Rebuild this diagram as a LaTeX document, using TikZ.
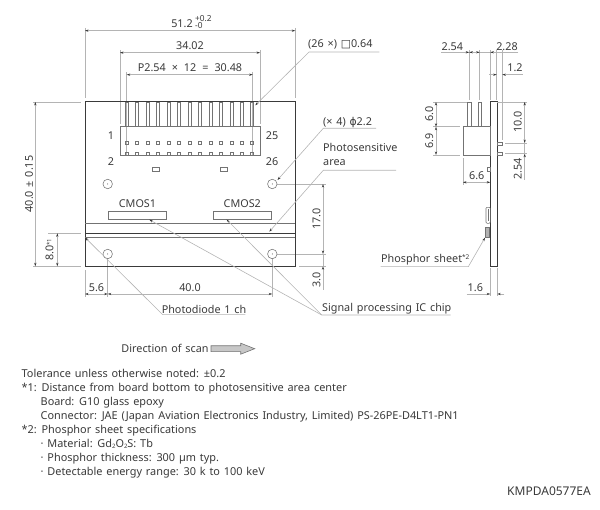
\documentclass[tikz,border=0pt]{standalone}
\usepackage{xcolor}
\usepackage{fontspec}
\setmainfont{Noto Sans}[WordSpace=1.35]
\newfontfamily\symfont{DejaVu Sans}
\usetikzlibrary{arrows.meta, positioning}
\definecolor{inkgray}{HTML}{3A3A3A}
\definecolor{linegray}{HTML}{B4B4B4}
\tikzset{
    outline/.style={draw=inkgray, line width=1pt},
    part/.style={draw=black!55, line width=0.55pt},
    extline/.style={draw=linegray, line width=0.6pt},
    dimline/.style={draw=linegray, line width=0.6pt, {Stealth[black!80, length=3.5pt, width=2.2pt]}-{Stealth[black!80, length=3.5pt, width=2.2pt]}},
    dimout/.style={draw=linegray, line width=0.6pt, -{Stealth[black!80, length=3.5pt, width=2.2pt]}},
    leader/.style={draw=linegray, line width=0.6pt, -{Stealth[black!80, length=3.5pt, width=2.2pt]}},
    lbl/.style={text=inkgray, inner sep=0pt, font=\fontsize{10.8}{12}\selectfont},
    vlbl/.style={lbl, rotate=90},
    hole/.style={circle, part, minimum size=9.5pt, inner sep=0pt},
    smallpad/.style={rectangle, part, inner sep=0pt, line width=0.45pt}
}
\newcommand{\subtwo}{\raisebox{-0.6pt}{\fontsize{6}{6}\selectfont 2}}
\begin{document}
\begin{tikzpicture}[x=1pt, y=-1pt]
\useasboundingbox (0,0) rectangle (600,510);

% Extension lines front view
\foreach \xa/\ya/\yb in {85/28/98, 295.3/28/98, 120/50/124, 260/50/124, 126.7/72/156, 252.7/72/156}
    \draw[extline] (\xa,\ya) -- (\xa,\yb);
\foreach \ya in {102, 266.3}
    \draw[extline] (33,\ya) -- (81,\ya);
\draw[extline] (48,233.3) -- (81,233.3);
\draw[extline] (85,270) -- (85,297);
\draw[extline] (107.7,258) -- (107.7,297);
\draw[extline] (272.3,258) -- (272.3,297);
\draw[extline] (277,184) -- (326,184);
\draw[extline] (277,254) -- (326,254);
\draw[extline] (299,266.3) -- (326,266.3);

% Board front view
\draw[outline] (85,102) rectangle (295.3,266.3);
\draw[part] (85,223.3) -- (295.3,223.3);
\draw[inkgray, line width=1.3pt] (85,233.2) -- (295.3,233.2);
\draw[part] (85,237.7) -- (295.3,237.7);

% Connector pins
\foreach \i in {0,...,12}{
    \pgfmathsetmacro{\px}{126.7+\i*10.46}
    \draw[part] (\px-1.5,102) rectangle (\px+1.5,126.7);
    \node[smallpad, minimum width=3pt, minimum height=3pt] (pa\i) at (\px,143) {};
    \node[smallpad, minimum width=3pt, minimum height=3pt] (pb\i) at (\px,153.7) {};
}
\draw[part] (120,126.7) rectangle (260,155.3);
\node[smallpad, minimum width=7pt, minimum height=3.5pt] (pad1) at (156,169) {};
\node[smallpad, minimum width=7pt, minimum height=3.5pt] (pad2) at (224,169) {};

% Holes
\foreach \n/\hx/\hy in {a/107.7/184, b/272.3/184, c/107.7/254, d/272.3/254}{
    \node[hole] (hole\n) at (\hx,\hy) {};
    \fill[inkgray] (\hx,\hy) circle (0.5pt);
}

% Chips
\node[part, rectangle, inner sep=0pt, minimum width=58pt, minimum height=8pt] (cmos1) at (137.5,215.3) {};
\node[part, rectangle, inner sep=0pt, minimum width=58pt, minimum height=8pt] (cmos2) at (242.3,215.3) {};
\node[lbl, above=3pt of cmos1] (cmos1txt) {CMOS1};
\node[lbl, above=3pt of cmos2] (cmos2txt) {CMOS2};
\node[lbl] (pin1) at (111,136) {1};
\node[lbl] (pin2) at (111,162) {2};
\node[lbl] (pin25) at (272,136) {25};
\node[lbl] (pin26) at (272,162) {26};

% Dimensions front view
\draw[dimline] (85,30.7) -- (295.3,30.7);
\node[lbl] (d512) at (182,24) {51.2};
\node[lbl, font=\fontsize{8.3}{9}\selectfont, anchor=west] (d512p) at (195,19) {+0.2};
\node[lbl, font=\fontsize{8.3}{9}\selectfont, anchor=west] (d512m) at (195,26) {-0};
\draw[dimline] (120,52.7) -- (260,52.7);
\node[lbl] (d3402) at (190,46) {34.02};
\draw[dimline] (126.7,74.7) -- (252.7,74.7);
\node[lbl] (dpitch) at (190,68) {P2.54\hspace{2.2pt} ×\hspace{2.2pt} 12\hspace{2.2pt} =\hspace{2.2pt} 30.48};
\draw[dimline] (35.3,102) -- (35.3,266.3);
\node[vlbl] (d400) at (29,184) {40.0 ± 0.15};
\draw[dimline] (57.3,233.3) -- (57.3,266.3);
\node[vlbl] (d80) at (49.5,250) {8.0\raisebox{2pt}{\fontsize{6}{6}\selectfont *1}};
\draw[dimline] (85,294) -- (107.7,294);
\node[lbl] (d56) at (96.5,287.3) {5.6};
\draw[dimline] (107.7,294) -- (272.3,294);
\node[lbl] (d40) at (190,287.3) {40.0};
\draw[dimline] (323,184) -- (323,254);
\node[vlbl] (d170) at (316.5,218.7) {17.0};
\draw[dimout] (323,290) -- (323,266.3);
\draw[extline] (323,254) -- (323,266.3);
\node[vlbl] (d30) at (316.5,280) {3.0};

% Leaders front view
\coordinate (pinend) at (255.3,105.3);
\coordinate (holeend) at (277.5,180);
\coordinate (areaend) at (269.3,231.7);
\coordinate (diodeend) at (85.3,237.7);
\coordinate (chipend1) at (149.3,219.7);
\coordinate (chipend2) at (226.7,219.7);
\draw[leader] (379.3,52) -- (309,52) -- (pinend);
\node[lbl, anchor=west] (pinsq) at (308,44.5) {(26 ×) {\symfont □}0.64};
\draw[leader] (376,128.3) -- (323.3,128.3) -- (holeend);
\node[lbl, anchor=west] (holedia) at (323,122.7) {(× 4) {\symfont ϕ}2.2};
\draw[leader] (396,170.3) -- (323.3,170.3) -- (areaend);
\node[lbl, anchor=north west, align=left, font=\fontsize{10.8}{13.7}\selectfont] (areatxt) at (323,143.5) {Photosensitive\\area};
\draw[leader] (245.3,314.7) -- (162.7,314.7) -- (diodeend);
\node[lbl] (diodetxt) at (204,309) {Photodiode 1 ch};
\draw[leader] (450.7,315) -- (321.7,315) -- (chipend1);
\draw[leader] (321.7,315) -- (chipend2);
\node[lbl, anchor=west] (chiptxt) at (322,309) {Signal processing IC chip};

% Side view
\draw[outline] (490.3,102) rectangle (497.3,266.3);
\draw[part] (463,126.7) rectangle (490.3,155.3);
\draw[part] (467.7,102) rectangle (471,126.7);
\draw[part] (478,102) rectangle (481.3,126.7);
\draw[part] (497.3,142) rectangle (502.7,145);
\draw[part] (497.3,152.3) rectangle (502.7,155.3);
\draw[part] (487.5,167) rectangle (490.3,171);
\draw[part, rounded corners=1pt] (486,207.3) rectangle (490.3,223.3);
\draw[part] (488,209.5) -- (488,221);
\draw[part, fill=black!30] (485.7,227.3) rectangle (489.3,237.7);

% Dimensions side view
\foreach \xa/\yb in {469.3/100, 479.7/100, 490.3/100, 496.7/100, 502.3/140}
    \draw[extline] (\xa,50) -- (\xa,\yb);
\draw[extline] (497.3,102) -- (527,102);
\draw[extline] (433,102) -- (467,102);
\draw[extline] (433,126.7) -- (460,126.7);
\draw[extline] (433,155) -- (460,155);
\draw[extline] (505,143) -- (527,143);
\draw[extline] (505,153.7) -- (527,153.7);
\draw[extline] (463,158) -- (463,185);
\draw[extline] (490.3,268) -- (490.3,296);
\draw[extline] (497.3,268) -- (497.3,296);
\draw[dimout] (441,52.3) -- (469.3,52.3);
\draw[dimline] (469.3,52.3) -- (479.7,52.3);
\draw[dimout] (518.3,52.3) -- (490.3,52.3);
\draw[extline] (479.7,52.3) -- (490.3,52.3);
\node[lbl] (s254) at (452.3,46.7) {2.54};
\node[lbl] (s228) at (507,46.7) {2.28};
\draw[dimout] (489,74.7) -- (496.7,74.7);
\draw[dimout] (522.7,74.7) -- (502.3,74.7);
\node[lbl] (s12) at (515,68) {1.2};
\draw[dimline] (436,102) -- (436,126.7);
\draw[dimline] (436,126.7) -- (436,155);
\node[vlbl] (s60) at (429.3,114.3) {6.0};
\node[vlbl] (s69) at (429.3,141) {6.9};
\draw[dimline] (524.7,102) -- (524.7,143);
\node[vlbl] (s100) at (517.7,121.7) {10.0};
\draw[dimout] (524.7,180) -- (524.7,153.7);
\draw[extline] (524.7,143) -- (524.7,153.7);
\node[vlbl] (s254b) at (517.7,169) {2.54};
\draw[dimline] (463,182.3) -- (490.3,182.3);
\node[lbl] (s66) at (476.7,176) {6.6};
\draw[dimout] (466.7,294) -- (490.3,294);
\draw[dimout] (504.3,294) -- (497.3,294);
\node[lbl] (s16) at (475.3,287.3) {1.6};
\coordinate (sheetend) at (485,237.7);
\draw[leader] (380.7,266.7) -- (468.3,266.7) -- (sheetend);
\node[lbl, anchor=west] (sheettxt) at (381,259.3) {Phosphor sheet\raisebox{3pt}{\fontsize{6.5}{6}\selectfont *2}};

% Scan direction
\node[lbl] (scantxt) at (165,348.3) {Direction of scan};
\draw[draw=black!55, fill=black!22, line width=0.6pt] (211,345.8) -- (240.7,345.8) -- (240.7,343.2) -- (254.7,348.7) -- (240.7,354.2) -- (240.7,351.6) -- (211,351.6) -- cycle;

% Notes
\node[lbl, anchor=north west, align=left, font=\fontsize{10.9}{14}\selectfont] (notes) at (21.5,369.5) {%
Tolerance unless otherwise noted: ±0.2\\
*1: Distance from board bottom to photosensitive area center\\
\hspace*{19pt}Board: G10 glass epoxy\\
\hspace*{19pt}Connector: JAE (Japan Aviation Electronics Industry, Limited) PS-26PE-D4LT1-PN1\\
*2: Phosphor sheet specifications\\
\hspace*{19pt}· Material: Gd\subtwo O\subtwo S: Tb\\
\hspace*{19pt}· Phosphor thickness: 300 µm typ.\\
\hspace*{19pt}· Detectable energy range: 30 k to 100 keV};
\node[lbl, anchor=east, font=\fontsize{12}{14}\selectfont] (docid) at (591,491.7) {KMPDA0577EA};
\end{tikzpicture}
\end{document}
